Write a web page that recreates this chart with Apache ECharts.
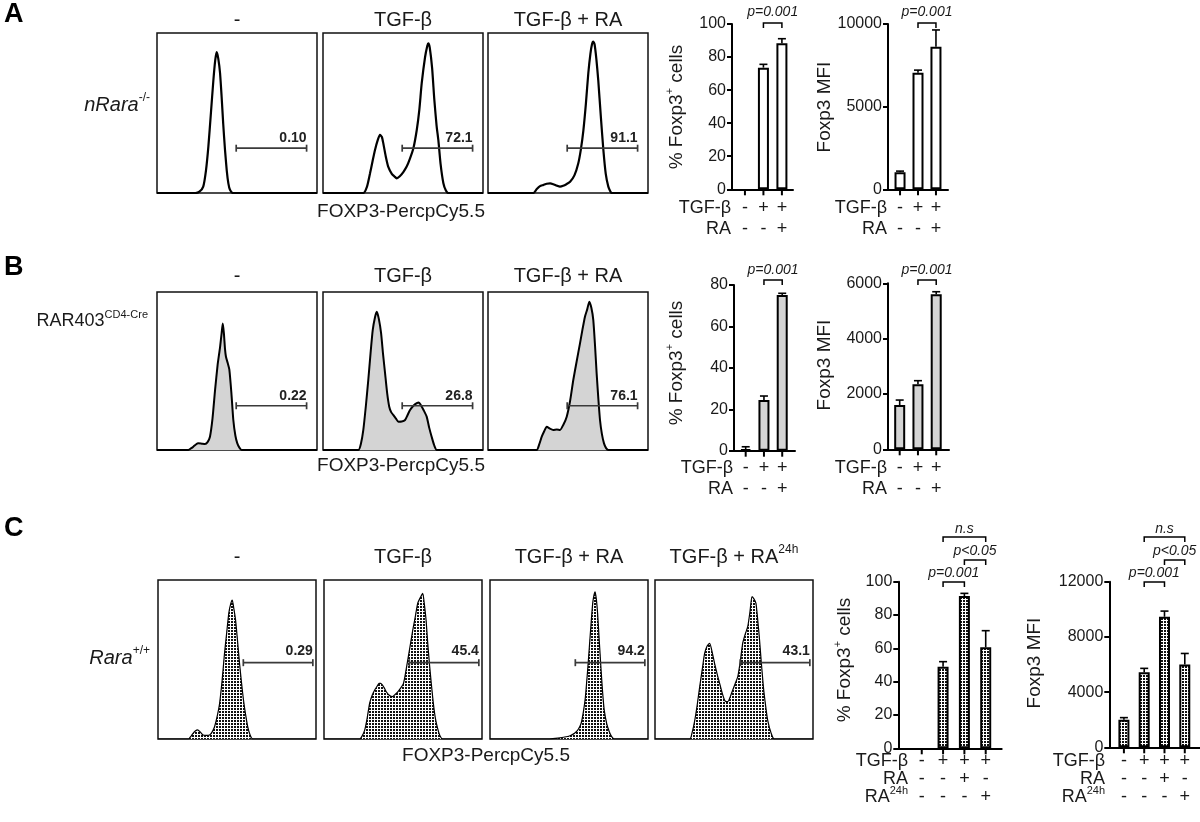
<!DOCTYPE html>
<html><head><meta charset="utf-8">
<script src="https://cdn.jsdelivr.net/npm/echarts@6/dist/echarts.min.js"></script>
<style>html,body{margin:0;padding:0;background:#fff}#c{width:1200px;height:822px}</style>
</head><body><div id="c"></div>
<script>
// ================= DATA =================
const titlesAB = [['-'], ['TGF-β'], ['TGF-β + RA']];
const titlesC = [['-'], ['TGF-β'], ['TGF-β + RA'], ['TGF-β + RA', '24h']];
const gateLabelsA = ['0.10', '72.1', '91.1'];
const gateLabelsB = ['0.22', '26.8', '76.1'];
const gateLabelsC = ['0.29', '45.4', '94.2', '43.1'];

// histograms: [channel (0-100), % of panel height]
const histA_none = [[0,0],[24,0],[26.5,0.8],[28.9,4],[30.6,14],[32.1,29],[33.7,50],[35.2,70],[36.4,83],[37.3,88],[38.3,84],[39.4,75],[40.4,60],[41.4,43],[42.5,27],[43.6,14],[44.6,6],[45.6,2],[47.5,0],[100,0]];
const histA_tgf = [[0,0],[25.2,0],[27.5,4],[29.4,12.3],[31,20],[32.5,26.9],[34.2,33],[35.6,36.3],[36.8,35],[37.7,31],[39.2,23],[40.8,16.3],[43,12],[44.5,10.5],[46.1,9.2],[48,10.5],[50.2,13.1],[52.3,16.5],[54.4,21.7],[56.5,28],[58.6,39.4],[60.2,52],[61.7,68.6],[63.8,85],[65.2,92],[65.8,93.6],[66.7,91],[68.2,78],[69.6,58],[71,42],[72.1,33],[73.5,18],[75.2,6.3],[76.8,1.5],[78.3,0],[100,0]];
const histA_ra = [[0,0],[28.3,0],[30.5,2.5],[32.5,4.3],[34.6,5],[36.7,5.8],[38.8,6],[40.8,5.5],[43,4.6],[45,4],[47,4.5],[49,5.5],[51.3,7],[54,11],[56.4,18.5],[58,27],[59.6,39],[61.2,56],[62.7,75],[64,87],[65,93],[65.8,94.6],[66.6,93],[67.7,84],[68.9,70.6],[70.5,48],[72.1,27],[73.6,12],[75.2,4],[76.5,1],[77.3,0],[100,0]];
const histB_none = [[0,0],[19.6,0],[21.2,1],[22.7,2.1],[24.3,3.5],[25.8,4.2],[28,4],[30,3.8],[31.6,5],[33.1,8.4],[34.7,20],[36.3,38],[37.9,54],[39.4,65],[40.4,74],[41.1,80],[41.8,74],[42.5,64],[43.1,59],[44.2,55],[45.2,51],[46.5,36],[47.7,19],[49,9],[50.2,4.2],[51.5,1.5],[52.9,0],[100,0]];
const histB_tgf = [[0,0],[22.1,0],[23.7,4],[25.2,12.7],[26.8,28],[28.3,44.3],[29.7,61],[31.1,76],[32.5,84],[33.6,87.5],[34.9,83],[36.3,73.9],[37.5,61],[38.8,48.5],[40.1,36],[41.4,27.4],[42.6,24],[43.9,22.2],[45.5,20],[47.1,17.9],[49.2,18],[51.3,19],[52.8,22],[54.4,25.3],[56.5,28],[58.6,29.6],[59.9,30],[61.1,28.5],[63,25],[64.8,21.1],[66.4,14],[67.9,8.4],[69.5,3],[71.1,0],[100,0]];
const histB_ra = [[0,0],[30.4,0],[32,3.5],[33.6,8.4],[35.2,12],[36.7,14.7],[38.7,13.5],[40.8,12.7],[43,13],[45,12.7],[47.1,16],[49.2,21.1],[51.3,31],[53.3,44.3],[55.4,56],[57.5,67.5],[59,76],[60.6,84.4],[62,89],[63.3,93.9],[64.6,90],[65.8,82.3],[66.9,66],[67.9,48.5],[69,32],[70,19],[71.2,10],[72.5,4.2],[73.8,1.2],[75.2,0],[100,0]];
const histC_none = [[0,0],[19.1,0],[20.7,1.5],[22.2,3.6],[23.6,5],[25,5.7],[26.7,4.5],[28.5,2.5],[30.6,2.3],[32.7,2.5],[34.3,4.5],[35.8,7.7],[37.4,14],[39,22.5],[40.6,37],[42.1,53.9],[43.5,67],[44.8,79],[46,85],[47,87.4],[48,82],[49.1,74.8],[50.4,61],[51.6,47.6],[52.9,35],[54.1,24.5],[55.5,15],[56.8,7.7],[58.3,2.5],[59.9,0],[100,0]];
const histC_tgf = [[0,0],[22.6,0],[24.2,2],[25.8,5.7],[27.3,13],[28.9,22.5],[30.5,27.5],[32.1,30.8],[33.5,33],[34.8,35],[35.9,35],[36.9,34],[38.2,32],[39.4,29.7],[41.3,27.5],[43.2,26.6],[45,28],[46.7,29.7],[48.5,32],[50.3,35],[51.7,42],[53,49.7],[54.6,59],[56.2,68.6],[57.8,77],[59.3,85.3],[61,89],[62.5,91.6],[63.6,84],[64.6,74.8],[65.6,61],[66.7,47.6],[68,34],[69.2,22.5],[70.5,13],[71.9,6.7],[73.4,2],[75,0],[100,0]];
const histC_ra = [[0,0],[37.7,0],[43,0.5],[48.2,1.4],[51,2.2],[53.5,3.6],[55.8,6],[57.7,9.9],[59.1,17],[60.4,26.6],[61.7,42],[62.9,58],[64,73],[65,85.3],[65.8,90.5],[66.5,92.6],[67.3,88],[68.1,79],[69.2,61],[70.3,43.4],[71.3,29],[72.3,18.2],[73.9,9.5],[75.5,4.6],[77,1.5],[78.6,0],[100,0]];
const histC_ra24 = [[0,0],[22,0],[23.6,4.5],[25.2,11.9],[26.8,22],[28.3,32.9],[29.8,43],[31.4,53.9],[33,58.5],[34.6,60.2],[36.1,55],[37.7,47.6],[39.3,41],[40.9,35],[42.5,29],[44,24.5],[45.1,23.5],[46.1,23.5],[47.6,26.5],[49.2,30.8],[50.8,35],[52.4,39.2],[54,49],[55.5,60.2],[57.1,66],[58.7,70.6],[60.1,80],[61.4,89.5],[62.7,88],[63.9,85.3],[65,75],[66,64.3],[67.3,48],[68.6,32.9],[70,21],[71.3,11.9],[73.4,4],[75.5,0],[100,0]];
const gateRangeAB = [49.5, 93.5];
const gateRangeC = [54, 98];

// bar charts
const signsAB_TGF = ['-', '+', '+'];
const signsAB_RA = ['-', '-', '+'];
const signsC_TGF = ['-', '+', '+', '+'];
const signsC_RA = ['-', '-', '+', '-'];
const signsC_RA24 = ['-', '-', '-', '+'];

const pctA = [null, 73.6, 88.3];      const pctA_err = [null, 2.0, 2.8];
const mfiA = [1030, 7050, 8630];      const mfiA_err = [70, 160, 1010];
const pctB = [0.7, 24.5, 75.2];       const pctB_err = [1.2, 1.9, 0.8];
const mfiB = [1600, 2350, 5600];      const mfiB_err = [180, 130, 95];
const pctC = [null, 49.0, 91.4, 60.6]; const pctC_err = [null, 3.0, 1.6, 10.0];
const mfiC = [2000, 5430, 9460, 6000]; const mfiC_err = [150, 290, 410, 800];

// ================= STYLE / LAYOUT =================
const FONT = "'Liberation Sans', Arial, Helvetica, sans-serif";
const F = (size, o = {}) => `${o.italic ? 'italic ' : ''}${o.bold ? 'bold ' : ''}${size}px ${FONT}`;
const INK = '#1a1a1a';

function dotPattern() {
  const c = document.createElement('canvas');
  c.width = 3; c.height = 3;
  const g = c.getContext('2d');
  g.fillStyle = '#fff'; g.fillRect(0, 0, 3, 3);
  g.fillStyle = '#111'; g.fillRect(0, 0, 2, 2);
  return c;
}
const DOTS = { image: dotPattern(), repeat: 'repeat' };

const HIST_ROWS = [
  { curves: [histA_none, histA_tgf, histA_ra], gates: gateLabelsA, titles: titlesAB, lefts: [157, 323, 488], width: 160, top: 33, height: 160, line: 2.2, fill: null, gr: gateRangeAB, gy: 28, lblOff: 10, titleY: 20, xlab: [401, 212], rowLab: [[{ t: 'nRara', italic: true }, { t: '-/-', sup: true }], 150, 105], rowSize: 20 },
  { curves: [histB_none, histB_tgf, histB_ra], gates: gateLabelsB, titles: titlesAB, lefts: [157, 323, 488], width: 160, top: 292, height: 158, line: 2, fill: '#d4d4d4', gr: gateRangeAB, gy: 28, lblOff: 10, titleY: 276, xlab: [401, 466], rowLab: [[{ t: 'RAR403' }, { t: 'CD4-Cre', sup: true }], 148, 321], rowSize: 18 },
  { curves: [histC_none, histC_tgf, histC_ra, histC_ra24], gates: gateLabelsC, titles: titlesC, lefts: [158, 324, 490, 655], width: 158, top: 580, height: 159, line: 1.2, fill: DOTS, gr: gateRangeC, gy: 48, lblOff: 12, titleY: 557, xlab: [486, 756], rowLab: [[{ t: 'Rara', italic: true }, { t: '+/+', sup: true }], 150, 658], rowSize: 20 }
];

const YT_PCT = [{ t: '% Foxp3' }, { t: '+', sup: true }, { t: ' cells' }];
const YT_MFI = [{ t: 'Foxp3 MFI' }];
const ROWS_AB = [[{ t: 'TGF-β' }], [{ t: 'RA' }]];
const ROWS_C = [[{ t: 'TGF-β' }], [{ t: 'RA' }], [{ t: 'RA' }, { t: '24h', sup: true }]];

const BAR_CHARTS = [
  { vals: pctA, errs: pctA_err, fill: '#fff', left: 732, top: 24, width: 61, height: 165.3, xmin: -0.7, xmax: 2.6, ymax: 100, interval: 20, yt: YT_PCT, ytx: 677, yty: 107,
    rows: ROWS_AB, signs: [signsAB_TGF, signsAB_RA], rowY: [208, 229], rowX: 731,
    br: [{ a: 1, b: 2, y: 23, text: 'p=0.001', ty: 12 }] },
  { vals: mfiA, errs: mfiA_err, fill: '#fff', left: 888, top: 24, width: 60, height: 165.3, xmin: -0.67, xmax: 2.67, ymax: 10000, interval: 5000, yt: YT_MFI, ytx: 825, yty: 107,
    rows: ROWS_AB, signs: [signsAB_TGF, signsAB_RA], rowY: [208, 229], rowX: 887,
    br: [{ a: 1, b: 2, y: 23, text: 'p=0.001', ty: 12 }] },
  { vals: pctB, errs: pctB_err, fill: '#d4d4d4', left: 734, top: 285, width: 61, height: 165.7, xmin: -0.64, xmax: 2.7, ymax: 80, interval: 20, yt: YT_PCT, ytx: 677, yty: 363,
    rows: ROWS_AB, signs: [signsAB_TGF, signsAB_RA], rowY: [468, 489], rowX: 733,
    br: [{ a: 1, b: 2, y: 280, text: 'p=0.001', ty: 270 }] },
  { vals: mfiB, errs: mfiB_err, fill: '#d4d4d4', left: 888, top: 283.3, width: 61, height: 166, xmin: -0.64, xmax: 2.7, ymax: 6000, interval: 2000, yt: YT_MFI, ytx: 825, yty: 365,
    rows: ROWS_AB, signs: [signsAB_TGF, signsAB_RA], rowY: [468, 489], rowX: 887,
    br: [{ a: 1, b: 2, y: 280, text: 'p=0.001', ty: 270 }] },
  { vals: pctC, errs: pctC_err, fill: DOTS, left: 898.3, top: 581.7, width: 103.4, height: 166.6, xmin: -1.1, xmax: 3.75, ymax: 100, interval: 20, yt: YT_PCT, ytx: 845, yty: 660,
    rows: ROWS_C, signs: [signsC_TGF, signsC_RA, signsC_RA24], rowY: [761, 779, 797], rowX: 908,
    br: [{ a: 1, b: 2, y: 582, text: 'p=0.001', ty: 573 }, { a: 2, b: 3, y: 560, text: 'p<0.05', ty: 551 }, { a: 1, b: 3, y: 537, text: 'n.s', ty: 529 }] },
  { vals: mfiC, errs: mfiC_err, fill: DOTS, left: 1109.3, top: 581.7, width: 90.7, height: 165.6, xmin: -0.72, xmax: 3.75, ymax: 12000, interval: 4000, yt: YT_MFI, ytx: 1035, yty: 663,
    rows: ROWS_C, signs: [signsC_TGF, signsC_RA, signsC_RA24], rowY: [761, 779, 797], rowX: 1105,
    br: [{ a: 1, b: 2, y: 582, text: 'p=0.001', ty: 573 }, { a: 2, b: 3, y: 560, text: 'p<0.05', ty: 551 }, { a: 1, b: 3, y: 537, text: 'n.s', ty: 529 }] }
];

// ================= BUILD =================
const chart = echarts.init(document.getElementById('c'));
const grid = [], xAxis = [], yAxis = [], series = [];

function gateRenderer(label, off) {
  return function (params, api) {
    const a = api.coord([api.value(0), api.value(2)]);
    const b = api.coord([api.value(1), api.value(2)]);
    const st = { stroke: '#3a3a3a', lineWidth: 1.7 };
    return { type: 'group', children: [
      { type: 'line', shape: { x1: a[0], y1: a[1], x2: b[0], y2: b[1] }, style: st },
      { type: 'line', shape: { x1: a[0], y1: a[1] - 3.5, x2: a[0], y2: a[1] + 3.5 }, style: st },
      { type: 'line', shape: { x1: b[0], y1: b[1] - 3.5, x2: b[0], y2: b[1] + 3.5 }, style: st },
      { type: 'text', style: { text: label, x: b[0], y: a[1] - off, font: F(14, { bold: true }), fill: '#222', textAlign: 'right', textVerticalAlign: 'middle', align: 'right', verticalAlign: 'middle' } }
    ] };
  };
}

HIST_ROWS.forEach(row => {
  row.curves.forEach((curve, k) => {
    const g = grid.length;
    grid.push({ left: row.lefts[k], top: row.top, width: row.width, height: row.height, show: true, borderColor: '#111', borderWidth: 1.5, backgroundColor: '#fff' });
    xAxis.push({ type: 'value', gridIndex: g, min: 0, max: 100, show: false });
    yAxis.push({ type: 'value', gridIndex: g, min: 0, max: 100, show: false });
    const s = { type: 'line', xAxisIndex: g, yAxisIndex: g, data: curve, smooth: 0.2, showSymbol: false, symbol: 'none', lineStyle: { color: '#000', width: row.line }, silent: true, z: 3 };
    if (row.fill) s.areaStyle = { color: row.fill, opacity: 1 };
    series.push(s);
    series.push({ type: 'custom', xAxisIndex: g, yAxisIndex: g, data: [[row.gr[0], row.gr[1], row.gy]], renderItem: gateRenderer(row.gates[k], row.lblOff), z: 5, silent: true });
  });
});

const barGridIdx = [];
BAR_CHARTS.forEach(bc => {
  const g = grid.length; barGridIdx.push(g);
  grid.push({ left: bc.left, top: bc.top, width: bc.width, height: bc.height, show: false });
  xAxis.push({ type: 'value', gridIndex: g, min: bc.xmin, max: bc.xmax, axisLine: { show: true, onZero: false, lineStyle: { color: '#000', width: 2 } }, axisTick: { show: false }, axisLabel: { show: false }, splitLine: { show: false } });
  yAxis.push({ type: 'value', gridIndex: g, min: 0, max: bc.ymax, interval: bc.interval,
    axisLine: { show: true, onZero: false, lineStyle: { color: '#000', width: 2 } },
    axisTick: { show: true, length: 5, lineStyle: { color: '#000', width: 2 } },
    axisLabel: { fontSize: 16, color: INK, fontFamily: FONT, margin: 6, formatter: v => String(v) }, splitLine: { show: false } });
  const idx = bc.vals.map((v, i) => i);
  series.push({ type: 'custom', xAxisIndex: g, yAxisIndex: g, data: idx.map(i => [i]), silent: true, z: 2,
    renderItem: (p, api) => { const c = api.coord([api.value(0), 0]); return { type: 'line', shape: { x1: c[0], y1: c[1], x2: c[0], y2: c[1] + 6 }, style: { stroke: '#000', lineWidth: 2 } }; } });
  series.push({ type: 'bar', xAxisIndex: g, yAxisIndex: g, barWidth: 11, silent: true, z: 3,
    data: idx.filter(i => bc.vals[i] != null).map(i => [i, bc.vals[i]]),
    itemStyle: { color: bc.fill, borderColor: '#000', borderWidth: 2 } });
  series.push({ type: 'custom', xAxisIndex: g, yAxisIndex: g, silent: true, z: 4,
    data: idx.filter(i => bc.vals[i] != null).map(i => [i, bc.vals[i], bc.errs[i]]),
    renderItem: (p, api) => {
      const a = api.coord([api.value(0), api.value(1)]);
      const b = api.coord([api.value(0), api.value(1) + api.value(2)]);
      const st = { stroke: '#000', lineWidth: 1.6 };
      return { type: 'group', children: [
        { type: 'line', shape: { x1: a[0], y1: a[1], x2: b[0], y2: b[1] }, style: st },
        { type: 'line', shape: { x1: b[0] - 4, y1: b[1], x2: b[0] + 4, y2: b[1] }, style: st }
      ] };
    } });
});

chart.setOption({ animation: false, backgroundColor: '#fff', grid, xAxis, yAxis, series });

// ================= TEXT / ANNOTATIONS =================
const mctx = document.createElement('canvas').getContext('2d');
function tw(text, font) { mctx.font = font; return mctx.measureText(text).width; }
function textEl(x, y, text, font, align, vAlign, fill) {
  return { type: 'text', x, y, silent: true, style: { text, font, fill: fill || INK, textAlign: align, textVerticalAlign: vAlign, align, verticalAlign: vAlign } };
}
function partsEl(x, y, parts, size, align, opts = {}) {
  const sup = Math.round(size * 0.6);
  const fonts = parts.map(p => F(p.sup ? sup : size, { italic: p.italic || opts.italic, bold: opts.bold }));
  const widths = parts.map((p, i) => tw(p.t, fonts[i]));
  const W = widths.reduce((s, w) => s + w, 0);
  let cx = align === 'center' ? -W / 2 : align === 'right' ? -W : 0;
  const children = parts.map((p, i) => {
    const el = textEl(cx, p.sup ? -size * 0.36 : 0, p.t, fonts[i], 'left', 'middle', opts.fill);
    cx += widths[i];
    return el;
  });
  return { type: 'group', x, y, rotation: opts.rotation || 0, silent: true, children };
}

const els = [];
[['A', 15], ['B', 268], ['C', 529]].forEach(([t, y]) => els.push(textEl(4, y, t, F(27, { bold: true }), 'left', 'middle', '#000')));

HIST_ROWS.forEach(row => {
  row.titles.forEach((parts, k) => {
    const cx = row.lefts[k] + row.width / 2;
    els.push(partsEl(cx, row.titleY, parts.map((t, j) => ({ t, sup: j === 1 })), 20, 'center'));
  });
  els.push(textEl(row.xlab[0], row.xlab[1], 'FOXP3-PercpCy5.5', F(19), 'center', 'middle'));
  els.push(partsEl(row.rowLab[1], row.rowLab[2], row.rowLab[0], row.rowSize, 'right'));
});

BAR_CHARTS.forEach((bc, n) => {
  const g = barGridIdx[n];
  const xOf = i => chart.convertToPixel({ gridIndex: g }, [i, 0])[0];
  els.push(partsEl(bc.ytx, bc.yty, bc.yt, 19, 'center', { rotation: Math.PI / 2 }));
  bc.rows.forEach((parts, r) => {
    els.push(partsEl(bc.rowX, bc.rowY[r], parts, 18, 'right'));
    bc.signs[r].forEach((s, i) => els.push(textEl(xOf(i), bc.rowY[r], s, F(18), 'center', 'middle')));
  });
  bc.br.forEach(b => {
    const x1 = xOf(b.a), x2 = xOf(b.b);
    els.push({ type: 'polyline', silent: true, shape: { points: [[x1, b.y + 5], [x1, b.y], [x2, b.y], [x2, b.y + 5]] }, style: { stroke: '#000', lineWidth: 1.5, fill: null } });
    els.push(textEl((x1 + x2) / 2, b.ty, b.text, F(14, { italic: true }), 'center', 'middle'));
  });
});

chart.setOption({ graphic: { elements: els } });
</script></body></html>
